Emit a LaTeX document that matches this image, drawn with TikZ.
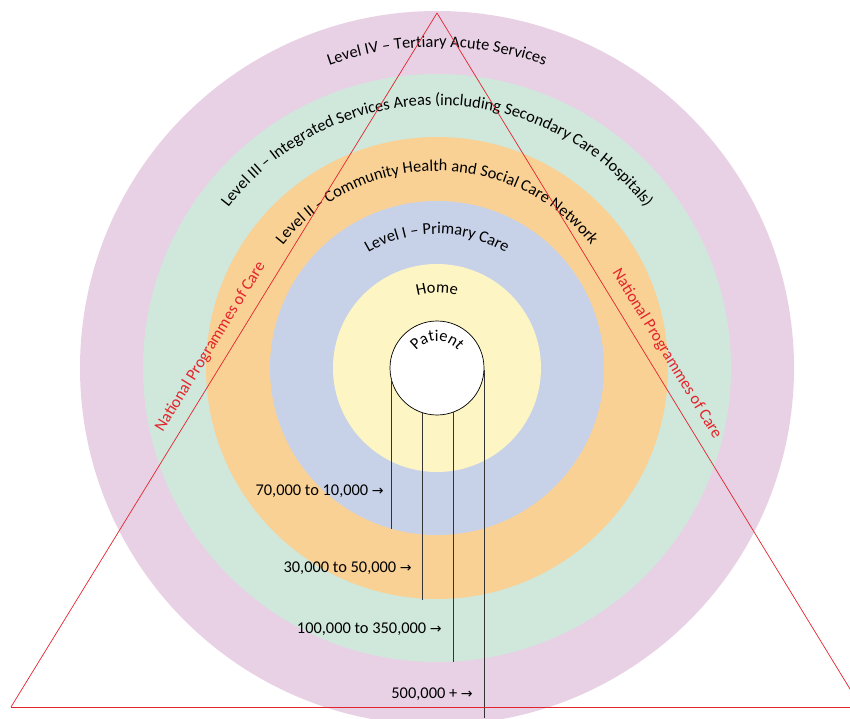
\documentclass[tikz,border=0pt]{standalone}
\usepackage{fontspec}
\setmainfont{Carlito}
\newfontfamily\arrowfont{DejaVu Sans}
\usetikzlibrary{decorations.text}
\definecolor{ringfour}{RGB}{232,209,229}
\definecolor{ringthree}{RGB}{208,231,219}
\definecolor{ringtwo}{RGB}{249,209,149}
\definecolor{ringone}{RGB}{199,210,233}
\definecolor{ringhome}{RGB}{253,245,195}
\definecolor{progred}{RGB}{228,36,44}
\newcommand{\lblfont}{\fontsize{14}{16}\selectfont}
\newcommand{\toarrow}{{\arrowfont\fontsize{12}{14}\selectfont →}}

\tikzset{
  ringtext/.style={decorate, decoration={text along path, text align=center, text={|\lblfont|#1}}},
  poplabel/.style={anchor=east, font=\lblfont, inner sep=0pt},
  progtext/.style={font=\lblfont, text=progred, sloped, above=6pt},
  drop/.style={line width=0.7pt, black!80}
}

\begin{document}
\begin{tikzpicture}[x=0.03cm, y=0.03cm]
  \useasboundingbox (-437,-350) rectangle (413,368);
  \clip (-437,-350) rectangle (413,368);
  % levels of care
  \fill[ringfour] (0,0) circle[radius=357];
  \fill[ringthree] (0,0) circle[radius=294];
  \fill[ringtwo] (0,0) circle[radius=231];
  \fill[ringone] (0,0) circle[radius=167];
  \fill[ringhome] (0,0) circle[radius=104];
  \path[ringtext={Level IV – Tertiary Acute Services}] (180:321) arc[start angle=180, end angle=0, radius=321];
  \path[ringtext={Level III – Integrated Services Areas (including Secondary Care Hospitals)}] (180:263) arc[start angle=180, end angle=0, radius=263];
  \path[ringtext={Level II – Community Health and Social Care Network}] (180:197) arc[start angle=180, end angle=0, radius=197];
  \path[ringtext={Level I – Primary Care}] (180:134) arc[start angle=180, end angle=0, radius=134];
  \path[ringtext={Home}] (180:75) arc[start angle=180, end angle=0, radius=75];

  % population
  \node[circle, draw, fill=white, line width=0.6pt, minimum size=2.82cm, inner sep=0pt, outer sep=0pt] (patient) at (0,0) {};
  \path[ringtext={Patient}] (180:27) arc[start angle=180, end angle=0, radius=27];
  \coordinate (d1) at (-46,-161);
  \coordinate (d2) at (-15,-232);
  \coordinate (d3) at (16,-294);
  \coordinate (d4) at (47,-350);
  \draw[drop] (patient.-168) -- (patient.-168 |- d1);
  \draw[drop] (patient.-108.6) -- (patient.-108.6 |- d2);
  \draw[drop] (patient.-70.1) -- (patient.-70.1 |- d3);
  \draw[drop] (patient.-2) -- (patient.-2 |- d4);
  \node[poplabel] (pop1) at (-53,-123) {70,000 to 10,000 \toarrow};
  \node[poplabel] (pop2) at (-25,-200) {30,000 to 50,000 \toarrow};
  \node[poplabel] (pop3) at (5,-261) {100,000 to 350,000 \toarrow};
  \node[poplabel] (pop4) at (36,-326) {500,000 + \toarrow};

  % programmes
  \coordinate (apex) at (0,355);
  \coordinate (baseL) at (-426,-339);
  \coordinate (baseR) at (424,-339);
  \draw[progred, line width=0.6pt] (apex) -- (baseL) node[progtext, pos=0.495] (progL) {National Programmes of Care};
  \draw[progred, line width=0.6pt] (apex) -- (baseR) node[progtext, pos=0.505] (progR) {National Programmes of Care};
  \draw[progred, line width=0.6pt] (baseL) -- (baseR);
\end{tikzpicture}
\end{document}
